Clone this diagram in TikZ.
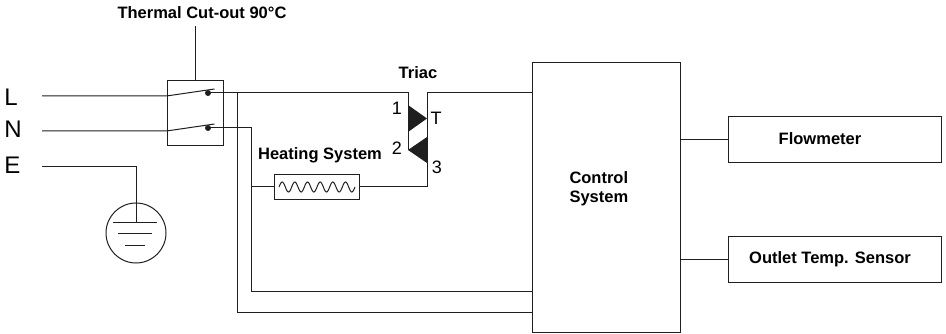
\documentclass[tikz,border=0pt]{standalone}
\usepackage{fontspec}
\setmainfont{Liberation Sans}
\usetikzlibrary{positioning}
\definecolor{wire}{rgb}{0.12,0.12,0.12}

\begin{document}
\begin{tikzpicture}[x=1pt, y=-1pt, line width=1pt, draw=wire,
  box/.style={draw=wire, inner sep=0pt},
  lbl/.style={font=\fontsize{16.5}{19}\selectfont\bfseries, inner sep=0pt},
  pinlbl/.style={font=\fontsize{18}{20}\selectfont, inner sep=0pt},
  mains/.style={font=\fontsize{24}{26}\selectfont, inner sep=0pt, anchor=west}]
			\useasboundingbox (0,0) rectangle (946,334);
			% mains
			\node[mains] (Ltxt) at (4,97) {L};
			\node[mains] (Ntxt) at (4,129) {N};
			\node[mains] (Etxt) at (4,165) {E};
			\coordinate (Lsrc) at (42,96);
			\coordinate (Nsrc) at (42,131);
			\coordinate (Esrc) at (42,167);
			% thermal cut-out
			\node[box, minimum width=56, minimum height=65] (sw) at (195,113.5) {};
			\node[lbl] (cutout) at (202,13) {Thermal Cut-out 90°C};
			\draw (sw.north) -- ++(0,-54);
			\coordinate (Lout) at (208,93);
			\coordinate (Nout) at (208,128);
			\draw (Lsrc) -- (Lsrc -| sw.west) -- ++(48,-7);
			\draw (Nsrc) -- (Nsrc -| sw.west) -- ++(48,-7);
			\fill[wire] (Lout) circle (3);
			\fill[wire] (Nout) circle (3);
			% earth
			\coordinate (gnd) at (136,223);
			\draw (Esrc) -| (gnd);
			\draw (136,233) circle (30);
			\draw (113,223) -- (157,223);
			\draw (118,234) -- (152,234);
			\draw (125,245) -- (145,245);
			% blocks
			\node[box, minimum width=148, minimum height=269] (ctrl) at (606,197.5) {};
			\node[lbl, anchor=west, align=left] (ctrltxt) at (569,189) {Control\\System};
			\node[box, minimum width=213, minimum height=46] (flow) at (834.5,140) {};
			\node[lbl] (flowtxt) at (820,139) {Flowmeter};
			\node[box, minimum width=213, minimum height=45] (temp) at (834.5,259.5) {};
			\node[lbl] (temptxt) at (830,259) {Outlet Temp. Sensor};
			\draw (ctrl.east |- flow) -- (flow.west);
			\draw (ctrl.east |- temp) -- (temp.west);
			% heater
			\node[box, minimum width=85, minimum height=25] (heat) at (316.5,187) {};
			\node[lbl] (heattxt) at (320,155) {Heating System};
			\draw[domain=0:1, samples=121, smooth] plot ({279+76*\x},{187-5*sin(6*360*\x)});
			% triac
			\node[lbl] (triac) at (418,73) {Triac};
			\coordinate (tA) at (408,93);
			\coordinate (tB) at (427,93);
			\fill[wire] (408,105) -- (408,132) -- (427,118.5) -- cycle;
			\fill[wire] (427,137) -- (427,163) -- (408,150) -- cycle;
			\node[pinlbl] (p1) at (397,108) {1};
			\node[pinlbl] (pT) at (436,118) {T};
			\node[pinlbl] (p2) at (397,148) {2};
			\node[pinlbl] (p3) at (437,167) {3};
			% wiring
			\coordinate (nbot) at (251,291);
			\coordinate (lbot) at (237,312);
			\draw (Lout) -- (tA) -- (408,150);
			\draw (ctrl.west |- tB) -- (tB) |- (heat.east);
			\draw (Nout) -| (nbot) -- (ctrl.west |- nbot);
			\draw (heat.west) -- (heat.west -| nbot);
			\draw (237,93) -- (lbot) -- (ctrl.west |- lbot);
		\end{tikzpicture}
\end{document}
